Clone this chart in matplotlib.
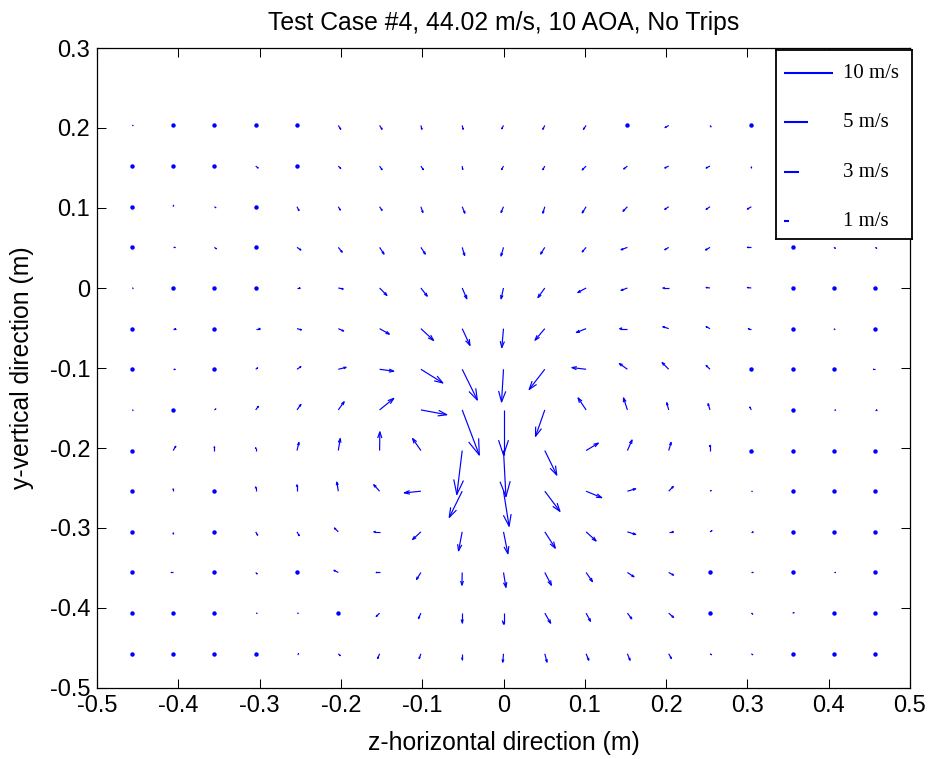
import numpy as np
import matplotlib
matplotlib.use("Agg")
import matplotlib.pyplot as plt
from matplotlib.collections import LineCollection

plt.rcParams['font.family'] = ['Liberation Sans', 'DejaVu Sans']
plt.rcParams['axes.unicode_minus'] = False

# ---------------- data ----------------
z_pos = [-0.4572 + 0.0508 * i for i in range(19)]          # horizontal grid (m)
y_pos = [0.2032 - 0.0508 * j for j in range(14)]           # vertical grid (m)

# horizontal velocity component (m/s), rows top->bottom, cols left->right
u_rows = [
    [0.2, 0, 0, 0, 0, 0.5, 0.5, 0.2, 0.2, -0.35, -0.4, -0.55, 0, -0.75, 0.2, 0, 0, 0, 0],
    [0, 0, 0, 0.5, 0, 0.5, 0.5, 0.5, 0.1, -0.4, -0.4, -0.8, -0.75, -0.8, -0.8, 0, 0, 0, 0],
    [0, 0.1, 0.3, 0, 0.4, 0.4, 0.5, 0.4, 0.55, -0.5, -0.4, -0.8, -0.9, -0.8, -0.8, -0.8, 0, 0, 0],
    [0, 0.4, 0.4, 0, 0.8, 0.8, 0.9, 0.9, 0.5, -0.5, -0.85, -0.8, -1.3, -0.8, -0.9, -0.8, 0, 0.3, 0.3],
    [0.2, 0, 0, 0, 0.6, 1.0, 1.5, 1.3, 0.95, -0.5, -1.4, -1.7, -1.3, -1.2, -0.8, -0.8, 0, 0, 0],
    [0, 0.5, 0, 0.9, 0.9, 1.1, 2.0, 2.6, 1.6, -0.35, -2.0, -2.0, -1.6, -1.2, -0.8, -0.6, 0, 0.2, 0],
    [0, 0.4, 0, 0.4, 0.8, 1.6, 2.9, 4.5, 3.1, -0.4, -3.2, -2.9, -1.65, -1.35, -0.8, 0, 0, 0, -0.35],
    [0.2, 0, 0.3, 0.55, 0.8, 1.2, 2.9, 5.3, 3.5, 0, -1.9, -1.65, -0.8, -0.4, -0.4, -0.3, 0, 0.3, 0.3],
    [0, 0.55, 0, 0, 0.4, 0.4, 0.05, -1.7, -1.1, 0.5, 2.45, 2.5, 0.95, 0.5, 0, 0, 0, 0, 0],
    [0, 0, 0, 0, 0, -0.3, -1.2, -3.4, -2.65, 1.15, 3.1, 3.2, 1.7, 0.95, 0.25, 0.15, 0, 0, 0],
    [0, 0, 0, 0.4, 0.45, -0.8, -1.2, -1.7, -0.75, 0.9, 2.15, 2.05, 1.7, 0.95, 0.4, 0.35, 0, 0, 0],
    [0, -0.4, 0, 0.3, 0, -0.9, -0.7, -0.9, -0.05, 0.5, 1.35, 1.3, 1.35, 1.0, 0, 0.3, 0, 0.3, 0],
    [0, 0, 0, 0.2, 0.2, 0, -0.7, -0.5, 0, 0, 1.2, 0.9, 0.9, 1.0, 0, 0.3, 0.3, 0, 0],
    [0, 0, 0, 0, 0.3, 0.4, -0.4, -0.35, 0, -0.15, 0.45, 0.55, 0.55, 0.55, 0.3, 0.3, 0, 0, 0],
]
# vertical velocity component (m/s), positive up
v_rows = [
    [0, 0, 0, 0, 0, -0.8, -0.8, -0.8, -0.8, -0.7, -0.8, -0.8, 0, -0.45, -0.3, 0, 0, 0, 0],
    [0, 0, 0, -0.4, 0, -0.5, -0.75, -0.75, -0.7, -0.75, -0.75, -0.8, -0.6, -0.4, -0.4, -0.3, 0, 0, 0],
    [0, 0.3, -0.2, 0, -0.8, -0.7, -0.75, -1.2, -1.35, -1.2, -1.35, -1.3, -0.95, -0.55, -0.55, -0.5, 0, 0, 0],
    [0, 0, -0.3, 0, -0.55, -1.0, -1.4, -1.4, -1.7, -1.8, -1.4, -0.95, -0.5, -0.5, -0.55, 0, 0, -0.2, -0.2],
    [0, 0, 0, 0, 0, -0.2, -1.55, -1.7, -2.25, -2.25, -2.0, -0.95, -0.5, 0, 0.1, 0.1, 0, 0, 0],
    [0, 0, 0, 0, -0.25, -0.5, -1.15, -2.45, -3.5, -3.95, -2.4, -0.8, 0, 0.4, 0.4, 0, 0, -0.2, 0],
    [0, 0, 0, 0.3, 0.55, 0.4, -0.4, -2.85, -6.4, -6.8, -4.2, 0.35, 1.2, 1.4, 0.8, 0, 0, 0, 0],
    [0, 0, 0.2, 0.75, 1.15, 1.7, 2.4, -1.0, -9.4, -9.4, -5.5, 2.5, 2.5, 1.5, 1.3, 0.6, 0, 0, 0],
    [0, 0.9, 0.8, 0.6, 1.7, 2.5, 3.9, 2.5, -9.15, -9.6, -5.1, 1.55, 2.2, 1.7, 1.1, 0, 0, 0, 0],
    [0, 0.5, 0, 0.9, 1.35, 1.9, 1.35, -0.35, -5.45, -7.3, -4.2, -1.35, 0.5, 1.0, 0.15, 0, 0, 0, 0],
    [0, -0.35, 0, -0.7, -0.8, 0.8, 0, -1.6, -3.95, -4.55, -3.4, -1.9, -0.55, 0, 0.25, 0, 0, 0, 0],
    [0, 0, 0, -0.3, 0, 0.45, 0, -1.45, -2.65, -3.1, -2.65, -1.9, -0.9, -0.55, 0, 0, 0, 0, 0],
    [0, 0, 0, 0, 0, 0, -0.7, -1.15, -2.0, -2.3, -2.1, -1.7, -1.2, -0.9, 0, -0.2, 0.1, 0, 0],
    [0, 0, 0, 0, 0, -0.4, -1.0, -1.0, -1.2, -1.75, -1.75, -1.35, -1.35, -1.0, -0.2, -0.2, 0, 0, 0],
]

ref_speeds = [10, 5, 3, 1]
ref_labels = ['10 m/s', '5 m/s', '3 m/s', '1 m/s']

x_ticks = [-0.5, -0.4, -0.3, -0.2, -0.1, 0, 0.1, 0.2, 0.3, 0.4, 0.5]
x_ticklabels = ['-0.5', '-0.4', '-0.3', '-0.2', '-0.1', '0', '0.1', '0.2', '0.3', '0.4', '0.5']
y_ticks = [-0.5, -0.4, -0.3, -0.2, -0.1, 0, 0.1, 0.2, 0.3]
y_ticklabels = ['-0.5', '-0.4', '-0.3', '-0.2', '-0.1', '0', '0.1', '0.2', '0.3']

title = 'Test Case #4, 44.02 m/s, 10 AOA, No Trips'
xlabel = 'z-horizontal direction (m)'
ylabel = 'y-vertical direction (m)'

# ---------------- drawing ----------------
W, H = 933, 759
FS = 17.8
fig = plt.figure(figsize=(W / 100, H / 100), dpi=100)
ax = fig.add_axes([97 / W, (H - 688) / H, 813 / W, 640 / H])

BLUE = '#0000ff'
k = 0.006          # metres of plot per m/s
alpha, beta = 0.33, 0.33

X, Y = np.meshgrid(np.array(z_pos), np.array(y_pos))
U = np.array(u_rows, dtype=float)
V = np.array(v_rows, dtype=float)
du, dv = U * k, V * k
tx, ty = X + du, Y + dv
h1x = tx - alpha * (du + beta * dv)
h1y = ty - alpha * (dv - beta * du)
h2x = tx - alpha * (du - beta * dv)
h2y = ty - alpha * (dv + beta * du)

moving = (U != 0) | (V != 0)
segs = []
for x0, y0, x1, y1, a, b, c, d in zip(X[moving], Y[moving], tx[moving], ty[moving],
                                      h1x[moving], h1y[moving], h2x[moving], h2y[moving]):
    segs.append([(x0, y0), (x1, y1)])
    segs.append([(a, b), (x1, y1), (c, d)])
ax.add_collection(LineCollection(segs, colors=BLUE, linewidths=0.85))
still = ~moving
ax.plot(X[still], Y[still], 'o', color=BLUE, ms=3.2, mew=0)

ax.set_xlim(-0.5, 0.5)
ax.set_ylim(-0.5, 0.3)
ax.set_xticks(x_ticks)
ax.set_xticklabels(x_ticklabels)
ax.set_yticks(y_ticks)
ax.set_yticklabels(y_ticklabels)
ax.tick_params(direction='in', length=6.5, width=0.75, top=True, right=True,
               labelsize=17, pad=5)
for s in ax.spines.values():
    s.set_linewidth(0.9)
ax.set_title(title, fontsize=FS, pad=13)
ax.set_xlabel(xlabel, fontsize=FS, labelpad=10)
ax.set_ylabel(ylabel, fontsize=FS, labelpad=11)

# reference-arrow key box
lx0, lx1, ly0, ly1 = 776, 912, 50, 239
lax = fig.add_axes([lx0 / W, (H - ly1) / H, (lx1 - lx0) / W, (ly1 - ly0) / H], zorder=5)
lax.set_facecolor('white')
lax.set_xlim(0, (lx1 - lx0) / 813)
lax.set_ylim(0, 1)
lax.set_xticks([])
lax.set_yticks([])
for s in lax.spines.values():
    s.set_linewidth(1.3)
row_y = [0.878, 0.619, 0.354, 0.095]
start = 8 / 813
for spd, lab, yy in zip(ref_speeds, ref_labels, row_y):
    lax.plot([start, start + spd * k], [yy, yy], color=BLUE, lw=1.5, solid_capstyle='butt')
    lax.text(67 / 813, yy, lab, fontsize=15, family=['Liberation Serif'], va='center', ha='left')

fig.savefig('out.png', dpi=100)
